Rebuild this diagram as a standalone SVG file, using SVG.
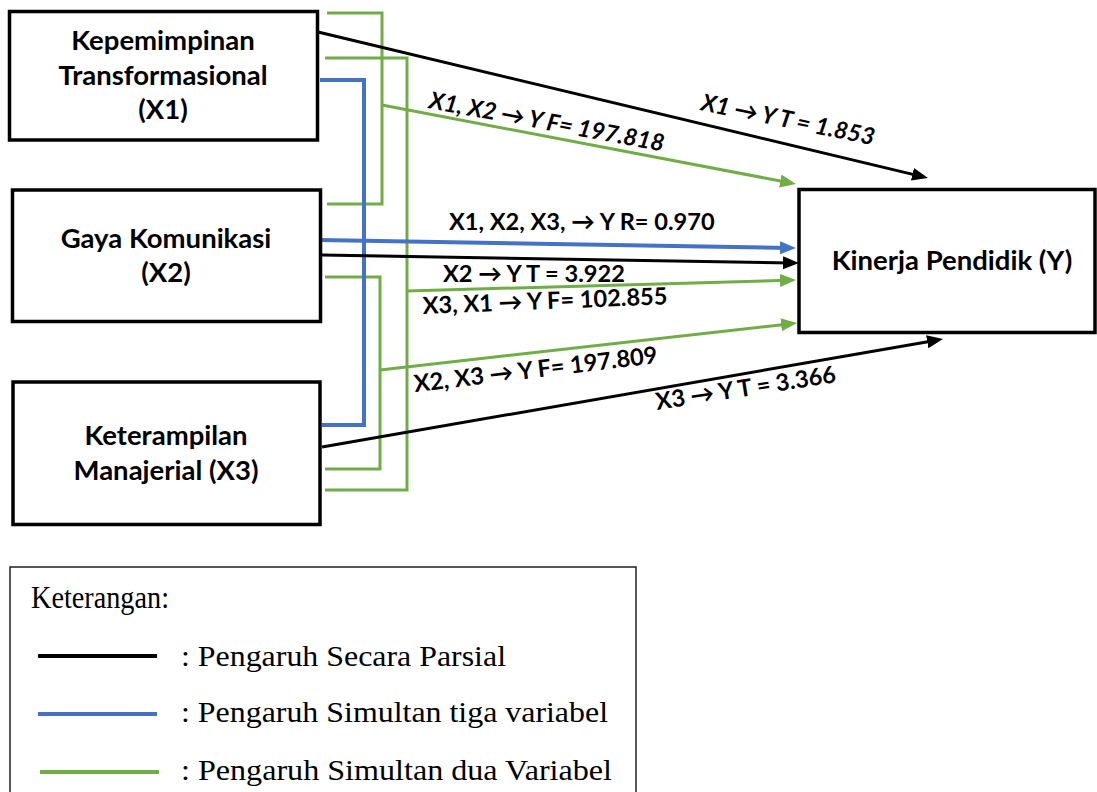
<svg xmlns="http://www.w3.org/2000/svg" width="1097" height="792" viewBox="0 0 1097 792">
<style>
.box{fill:#fff;stroke:#000;stroke-width:3.5}
.nt{font-family:Lato,"Liberation Sans",sans-serif;font-weight:bold;font-size:27.5px;fill:#000;text-anchor:middle}
.el{font-family:Lato,"Liberation Sans",sans-serif;font-weight:bold;font-size:23.6px;fill:#000}
.it{font-style:italic}
.blk{stroke:#000;stroke-width:3;fill:none}
.blu{stroke:#4472C4;stroke-width:4;fill:none}
.grn{stroke:#70AD47;stroke-width:3;fill:none}
.lg{font-family:"Liberation Serif","Times New Roman",serif;font-size:31px;fill:#000}
.li{font-family:"Liberation Serif","Times New Roman",serif;font-size:28.5px;fill:#000}
</style>
<defs>
<marker id="ab" markerUnits="userSpaceOnUse" markerWidth="17" markerHeight="14" refX="8" refY="6.5" orient="auto"><path d="M0,0 L16,6.5 L0,13 z" fill="#000"/></marker>
<marker id="au" markerUnits="userSpaceOnUse" markerWidth="17" markerHeight="14" refX="8" refY="6.5" orient="auto"><path d="M0,0 L16,6.5 L0,13 z" fill="#4472C4"/></marker>
<marker id="ag" markerUnits="userSpaceOnUse" markerWidth="17" markerHeight="14" refX="8" refY="6.5" orient="auto"><path d="M0,0 L16,6.5 L0,13 z" fill="#70AD47"/></marker>
</defs>
<rect width="1097" height="792" fill="#fff"/>

<g id="connectors">
<path class="grn" d="M327,13 H382 V204 H327"/>
<path class="grn" d="M325,58 H407 V490 H325"/>
<path class="grn" d="M325,277 H380 V469 H325"/>
<path class="blu" d="M320,80 H364 V425 H322"/>
<line class="blk" x1="318" y1="32" x2="920.2" y2="176.1" marker-end="url(#ab)"/>
<line class="grn" x1="382" y1="105" x2="788.1" y2="182.5" marker-end="url(#ag)"/>
<line class="blu" x1="320" y1="240" x2="788" y2="247.9" marker-end="url(#au)"/>
<line class="blk" x1="322" y1="255" x2="791" y2="262.9" marker-end="url(#ab)"/>
<line class="grn" x1="407" y1="291" x2="788" y2="280.2" marker-end="url(#ag)"/>
<line class="grn" x1="380" y1="370" x2="789.1" y2="323.9" marker-end="url(#ag)"/>
<line class="blk" x1="322" y1="447" x2="935.1" y2="340.4" marker-end="url(#ab)"/>
<text class="el it" transform="translate(700,110) rotate(11.5)">X1 → Y T = 1.853</text>
<text class="el it" transform="translate(428,108) rotate(10.5)">X1, X2 → Y F= 197.818</text>
<text class="el" x="449" y="230">X1, X2, X3, → Y R= 0.970</text>
<text class="el" x="443" y="282">X2 → Y T = 3.922</text>
<text class="el" transform="translate(423,314) rotate(-2.3)">X3, X1 → Y F= 102.855</text>
<text class="el" transform="translate(415,392) rotate(-6.8)">X2, X3 → Y F= 197.809</text>
<text class="el" transform="translate(657,410) rotate(-8.8)">X3 → Y T = 3.366</text>
</g>

<g id="x1">
<rect class="box" x="9.5" y="11.5" width="308" height="128.5"/>
<text class="nt" x="163" y="50">Kepemimpinan</text>
<text class="nt" x="163" y="85">Transformasional</text>
<text class="nt" x="163" y="119">(X1)</text>
</g>
<g id="x2">
<rect class="box" x="12.5" y="190" width="308" height="131.5"/>
<text class="nt" x="166" y="248">Gaya Komunikasi</text>
<text class="nt" x="166" y="282">(X2)</text>
</g>
<g id="x3">
<rect class="box" x="13" y="382" width="307" height="142.5"/>
<text class="nt" x="166" y="445">Keterampilan</text>
<text class="nt" x="166" y="480">Manajerial (X3)</text>
</g>
<g id="y">
<rect class="box" x="799" y="189.5" width="296" height="143"/>
<text class="nt" x="952" y="270">Kinerja Pendidik (Y)</text>
</g>

<g id="legend">
<rect x="10" y="567" width="626" height="240" fill="#fff" stroke="#222" stroke-width="1.5"/>
<text class="lg" x="31" y="608" textLength="138" lengthAdjust="spacingAndGlyphs">Keterangan:</text>
<line x1="38" y1="656" x2="157" y2="656" stroke="#000" stroke-width="4"/>
<text class="li" x="181" y="666" textLength="325" lengthAdjust="spacingAndGlyphs">: Pengaruh Secara Parsial</text>
<line x1="38" y1="714" x2="157" y2="714" stroke="#4472C4" stroke-width="4"/>
<text class="li" x="181" y="722" textLength="427" lengthAdjust="spacingAndGlyphs">: Pengaruh Simultan tiga variabel</text>
<line x1="40" y1="772" x2="159" y2="772" stroke="#70AD47" stroke-width="4"/>
<text class="li" x="181" y="780" textLength="431" lengthAdjust="spacingAndGlyphs">: Pengaruh Simultan dua Variabel</text>
</g>
</svg>
